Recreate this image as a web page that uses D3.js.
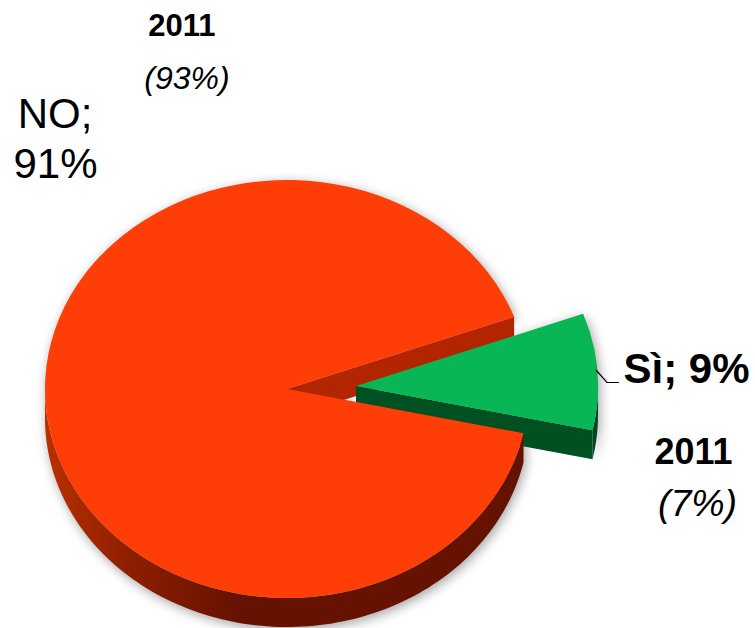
<!DOCTYPE html>
<html>
<head>
<meta charset="utf-8">
<script src="https://cdn.jsdelivr.net/npm/d3@7"></script>
<style>
  html, body { margin: 0; padding: 0; background: #fff; }
  svg { display: block; }
  text { font-family: "Liberation Sans", Arial, sans-serif; fill: #000; }
</style>
</head>
<body>
<svg width="755" height="628"></svg>
<script>
var categories = ["Sì", "NO"];
var values = [9, 91];
var prevYear = "2011";
var prevValues = ["(7%)", "(93%)"];

var colors = {
  "Sì": {top: "#08b655", wall: "#005022", rim: "#00471e"},
  "NO": {top: "#ff3d06", wall: "#b32400", rim: "url(#rimRed)"}
};

var svg = d3.select("svg");
var rx = 242, ry = 209, depth = 29;
var center = {"NO": {x: 287, y: 389}, "Sì": {x: 356, y: 386}};

var pie = d3.pie().sort(null).startAngle(69.8 * Math.PI / 180).endAngle(429.8 * Math.PI / 180);
var slices = pie(values).map(function(d, i) {
  return {name: categories[i], start: d.startAngle, end: d.endAngle, d: d};
});
var green = slices[0], red = slices[1];

var arc = d3.arc().innerRadius(0).outerRadius(rx);

function rim(name, a) {
  return {x: center[name].x + rx * Math.sin(a), y: center[name].y - ry * Math.cos(a)};
}
// band hanging below a list of top face points
var band = d3.area()
  .x(function(p) { return p.x; })
  .y0(function(p) { return p.y; })
  .y1(function(p) { return p.y + depth; });

function rimPoints(name, a0, a1) {
  return d3.range(0, 121).map(function(i) { return rim(name, a0 + (a1 - a0) * i / 120); });
}
function topFace(g, s) {
  g.append("path")
    .attr("d", arc(s.d))
    .attr("transform", "translate(" + center[s.name].x + "," + center[s.name].y + ") scale(1," + (ry / rx) + ")")
    .attr("fill", colors[s.name].top);
}

var defs = svg.append("defs");
var grad = defs.append("linearGradient").attr("id", "rimRed")
  .attr("gradientUnits", "userSpaceOnUse")
  .attr("x1", 44).attr("x2", 240).attr("y1", 0).attr("y2", 0);
grad.append("stop").attr("offset", 0).attr("stop-color", "#ba3000");
grad.append("stop").attr("offset", 0.45).attr("stop-color", "#8c1e00");
grad.append("stop").attr("offset", 1).attr("stop-color", "#651200");
defs.append("filter").attr("id", "blur")
  .attr("x", "-10%").attr("y", "-10%").attr("width", "120%").attr("height", "120%")
  .append("feGaussianBlur").attr("stdDeviation", 6);

var redRim = rimPoints("NO", red.start, Math.PI * 1.5);
var greenRim = rimPoints("Sì", Math.PI / 2, green.end);

// soft shadow under both pieces
var shadow = svg.append("g").attr("filter", "url(#blur)").attr("opacity", 0.36);
[redRim, greenRim].forEach(function(pts) {
  shadow.append("path").attr("d", band(pts)).attr("fill", "#000");
});
topFace(shadow, red);
topFace(shadow, green);
shadow.selectAll("path").attr("fill", "#000");
shadow.attr("transform", "translate(2,3)");

// cut wall of the big slice, seen through the gap
var redCut = [{x: center.NO.x, y: center.NO.y}, rim("NO", red.end)];
svg.append("path").attr("d", band(redCut)).attr("fill", colors.NO.wall);

// green slice
var greenCut = [{x: center["Sì"].x, y: center["Sì"].y}, rim("Sì", green.end)];
svg.append("path").attr("d", band(greenRim)).attr("fill", colors["Sì"].rim);
svg.append("path").attr("d", band(greenCut)).attr("fill", colors["Sì"].wall);
topFace(svg, green);

// big slice goes over the green wall
svg.append("path").attr("d", band(redRim)).attr("fill", colors.NO.rim);
topFace(svg, red);

// leader line
svg.append("path")
  .attr("d", d3.line()([[596, 370], [607, 382.5], [619, 382.5]]))
  .attr("fill", "none").attr("stroke", "#000").attr("stroke-width", 1.2);

function label(x, y, str, size, weight, style, anchor) {
  svg.append("text").attr("x", x).attr("y", y)
    .attr("text-anchor", anchor || "middle")
    .style("font-size", size + "px")
    .style("font-weight", weight || "normal")
    .style("font-style", style || "normal")
    .text(str);
}
label(182, 36, prevYear, 31, "bold");
label(187, 89, prevValues[1], 32, null, "italic");
label(55, 128, categories[1] + ";", 42);
label(55.5, 177.5, values[1] + "%", 42);
label(686.5, 382.5, categories[0] + "; " + values[0] + "%", 42, "bold");
label(693.5, 464, prevYear, 36, "bold");
label(697.5, 516, prevValues[0], 37.5, null, "italic");
</script>
</body>
</html>
